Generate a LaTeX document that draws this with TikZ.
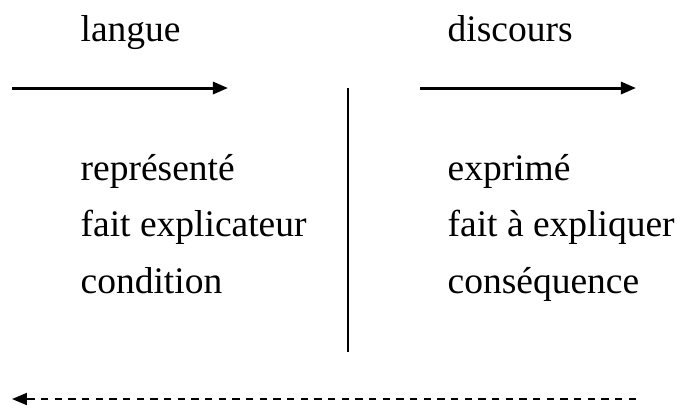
\documentclass[tikz,border=0pt]{standalone}
\usepackage{fontspec}
\setmainfont{Liberation Serif}
\usetikzlibrary{arrows.meta,positioning}
\tikzset{
  lgtext/.style={inner sep=0pt, anchor=base west, font=\fontsize{11.25}{14}\selectfont},
  lgline/.style={-{Triangle[length=4.5pt,width=3.6pt]}, line width=0.9pt},
  lgsplit/.style={line width=0.6pt},
  lgback/.style={-{Triangle[length=4.5pt,width=3.6pt]}, line width=0.6pt, dash pattern=on 2.2pt off 1.9pt}
}
\begin{document}
\begin{tikzpicture}[x=0.3pt, y=-0.3pt]
  \useasboundingbox (0,0) rectangle (684,407);
  % headings
  \node[lgtext] (langue) at (80,41) {langue};
  \node[lgtext] (discours) at (447,41) {discours};
  % left column
  \node[lgtext] (rep) at (80,180) {représenté};
  \node[lgtext, below=17pt of rep.base west, anchor=base west] (explic) {fait explicateur};
  \node[lgtext, below=17pt of explic.base west, anchor=base west] (cond) {condition};
  % right column
  \node[lgtext] (expr) at (447,180) {exprimé};
  \node[lgtext, below=17pt of expr.base west, anchor=base west] (aexpl) {fait à expliquer};
  \node[lgtext, below=17pt of aexpl.base west, anchor=base west] (cons) {conséquence};
  % arrows
  \coordinate (la) at (12,88);
  \coordinate (lb) at (228,88);
  \coordinate (ra) at (420,88);
  \coordinate (rb) at (636,88);
  \coordinate (mtop) at (348,88);
  \coordinate (mbot) at (348,352);
  \coordinate (bstart) at (636,399);
  \coordinate (bend) at (12,399);
  \draw[lgline] (la) -- (lb);
  \draw[lgline] (ra) -- (rb);
  \draw[lgsplit] (mtop) -- (mbot);
  \draw[lgback] (bstart) -- (bend);
\end{tikzpicture}
\end{document}
